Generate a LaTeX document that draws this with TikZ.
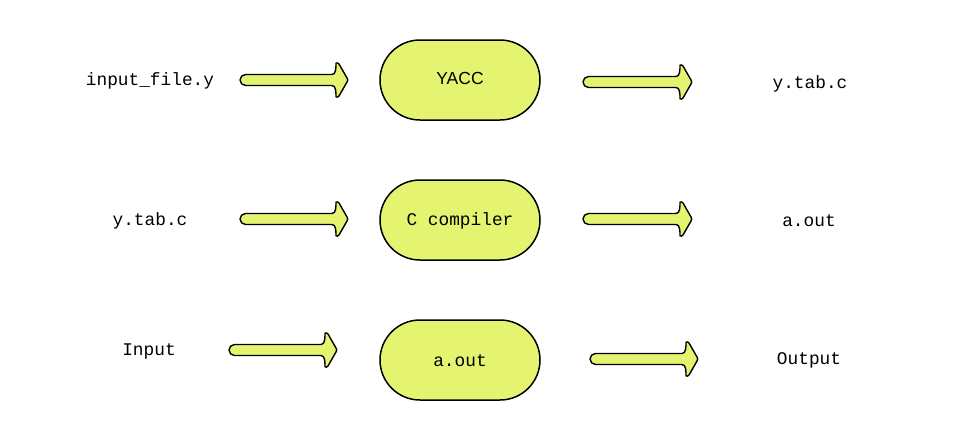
\documentclass[tikz,border=0pt]{standalone}
\usepackage{fontspec}
\setmainfont{Liberation Sans}
\setmonofont{Liberation Mono}
\definecolor{boxfill}{RGB}{228,244,112}
\newcommand\blockarrow[3]{% x0, x1, yc
  \fill[boxfill,draw=black,line width=1.4pt,line join=round]
    ({#1+5.5},{#3-5.5}) -- ({#2-16},{#3-5.5})
    .. controls ({#2-12},{#3-5.5}) and ({#2-12},{#3-12}) .. ({#2-12},{#3-17})
    .. controls ({#2-11},{#3-17.5}) and ({#2-10},{#3-17}) .. ({#2-9},{#3-16})
    -- ({#2-1},{#3-2})
    .. controls ({#2},{#3-1}) and ({#2},{#3+1}) .. ({#2-1},{#3+2})
    -- ({#2-9},{#3+16})
    .. controls ({#2-10},{#3+17}) and ({#2-11},{#3+17.5}) .. ({#2-12},{#3+17})
    .. controls ({#2-12},{#3+12}) and ({#2-12},{#3+5.5}) .. ({#2-16},{#3+5.5})
    -- ({#1+5.5},{#3+5.5})
    arc[start angle=90,end angle=270,radius=5.5] -- cycle;
}
\begin{document}
\begin{tikzpicture}[x=1pt,y=-1pt,
  proc/.style={draw=black,line width=1.5pt,fill=boxfill,rounded corners=40pt,
    minimum width=160pt,minimum height=80pt,inner sep=0pt},
  mono/.style={font=\ttfamily\fontsize{17.8}{20}\selectfont,inner sep=0pt},
  sans/.style={font=\fontsize{17.5}{20}\selectfont,inner sep=0pt}]
\useasboundingbox (0,0) rectangle (960,440);
% boxes
\node[proc] (yacc) at (460,80) {};
\node[sans] (yacctxt) at (460,78) {YACC};
\node[proc] (cc) at (460,220) {};
\node[mono] (cctxt) at (460,221) {C compiler};
\node[proc] (aout) at (460,360) {};
\node[mono] (aouttxt) at (460,361) {a.out};
% texts
\node[mono] (in1) at (150,80.5) {input\_file.y};
\node[mono] (out1) at (810,83.5) {y.tab.c};
\node[mono] (in2) at (150,220.5) {y.tab.c};
\node[mono] (out2) at (809,220.5) {a.out};
\node[mono] (in3) at (149,351.5) {Input};
\node[mono] (out3) at (809,360.5) {Output};
% arrows
\blockarrow{240}{348}{80}
\blockarrow{583}{692}{82}
\blockarrow{240}{348}{219}
\blockarrow{583}{692}{219}
\blockarrow{229}{337}{350}
\blockarrow{590}{698}{359}
\end{tikzpicture}
\end{document}
